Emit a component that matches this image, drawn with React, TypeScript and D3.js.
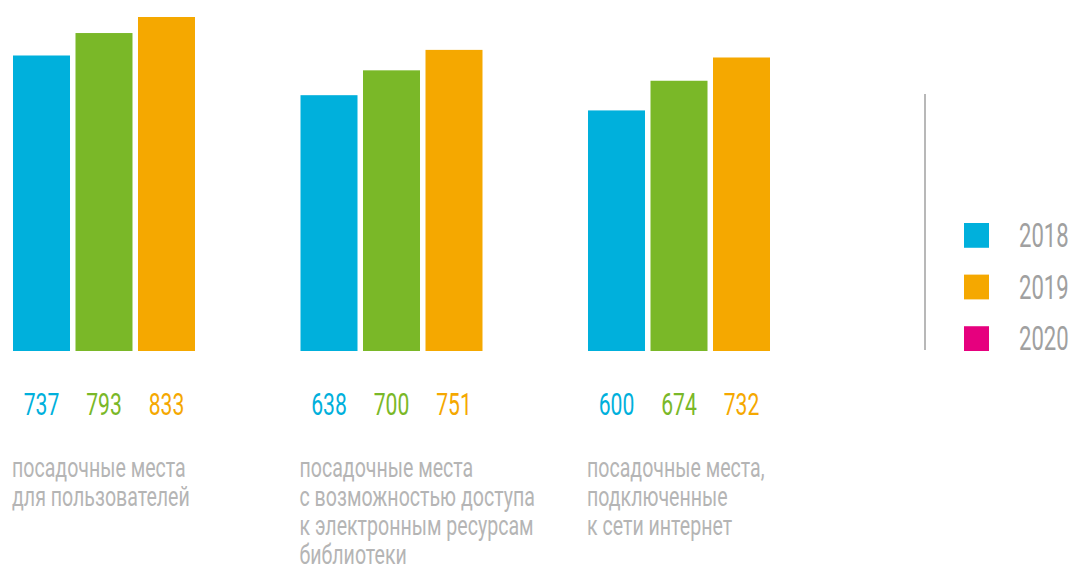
import React from "react";
import * as d3 from "d3";

const categories = ["g1", "g2", "g3"];
const categoryLabels: string[][] = [
  ["посадочные места", "для пользователей"],
  ["посадочные места", "с возможностью доступа", "к электронным ресурсам", "библиотеки"],
  ["посадочные места,", "подключенные", "к сети интернет"],
];
const years = ["2018", "2019", "2020"];
const values2018 = [737, 638, 600];
const values2019 = [793, 700, 674];
const values2020 = [833, 751, 732];
const barColors = ["#00b0dc", "#7ab828", "#f5a800"];
const legendYears = ["2018", "2019", "2020"];
const legendColors = ["#00b0dc", "#f5a800", "#e6007e"];

const W = 1072;
const H = 565;
const FONT = "Roboto, 'DejaVu Sans', sans-serif";

export default function App() {
  const series = [values2018, values2019, values2020];
  const x0 = d3.scaleBand<string>().domain(categories).range([13, 770]).paddingInner(0.367).paddingOuter(0);
  const x1 = d3.scaleBand<string>().domain(years).range([0, x0.bandwidth()]).paddingInner(0.088).paddingOuter(0);
  const y = d3.scaleLinear().domain([0, 833]).range([351, 17]);
  const legendY = d3.scaleBand<string>().domain(legendYears).range([223, 351]).paddingInner(0.52).paddingOuter(0);

  return (
    <svg width={W} height={H} style={{ position: "absolute", left: 0, top: 0, background: "#fff" }}>
      {categories.map((c, ci) => (
        <g key={c} transform={`translate(${x0(c)},0)`}>
          {years.map((yr, yi) => {
            const v = series[yi][ci];
            const bx = x1(yr)!;
            return (
              <g key={yr}>
                <rect x={bx} y={y(v)} width={x1.bandwidth()} height={y(0) - y(v)} fill={barColors[yi]} />
                <text
                  transform={`translate(${bx + x1.bandwidth() / 2},415) scale(0.66,1)`}
                  textAnchor="middle"
                  fontFamily={FONT}
                  fontSize={32}
                  fill={barColors[yi]}
                >
                  {v}
                </text>
              </g>
            );
          })}
          {categoryLabels[ci].map((line, li) => (
            <text
              key={li}
              transform={`translate(-1,${477 + li * 29}) scale(0.725,1)`}
              fontFamily={FONT}
              fontSize={27}
              fill="#b5b5b5"
            >
              {line}
            </text>
          ))}
        </g>
      ))}
      <line x1={925} x2={925} y1={94} y2={350} stroke="#b8b8b8" strokeWidth={2} />
      {legendYears.map((yr, i) => (
        <g key={yr}>
          <rect x={964} y={legendY(yr)} width={25} height={legendY.bandwidth()} fill={legendColors[i]} />
          <text
            transform={`translate(1019,${legendY(yr)! + 24}) scale(0.67,1)`}
            fontFamily={FONT}
            fontSize={33}
            fill="#a0a0a0"
          >
            {yr}
          </text>
        </g>
      ))}
    </svg>
  );
}
